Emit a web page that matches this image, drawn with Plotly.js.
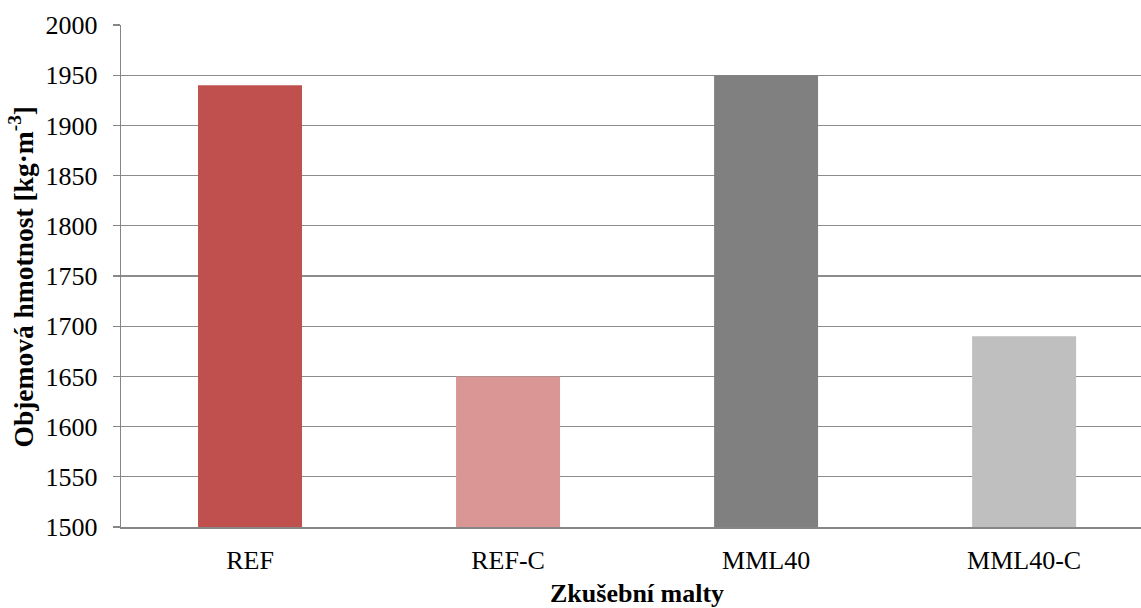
<!DOCTYPE html>
<html>
<head>
<meta charset="utf-8">
<script src="https://cdn.plot.ly/plotly-3.0.1.min.js"></script>
<style>html,body{margin:0;padding:0;background:#fff;}#chart{width:1141px;height:608px;}</style>
</head>
<body>
<div id="chart"></div>
<script>
const categories = ["REF", "REF-C", "MML40", "MML40-C"];
const values = [1940, 1650, 1950, 1690];
const barColors = ["#C0504D", "#D99694", "#808080", "#BFBFBF"];
const yTicks = [1500, 1550, 1600, 1650, 1700, 1750, 1800, 1850, 1900, 1950, 2000];
const xTitle = "Zkušební malty";
const yTitle = "Objemová hmotnost [kg·m<sup>-3</sup>]";

const font = "Liberation Serif, Times New Roman, serif";

const trace = {
  type: "bar",
  x: categories,
  y: values,
  marker: {color: barColors, line: {width: 0}},
  width: 0.403,
  hoverinfo: "x+y"
};

const layout = {
  width: 1141,
  height: 608,
  margin: {l: 121, r: 0, t: 25, b: 81},
  paper_bgcolor: "#fff",
  plot_bgcolor: "#fff",
  showlegend: false,
  font: {family: font, size: 26, color: "#000"},
  xaxis: {
    type: "category",
    range: [-0.5, 3.453],
    showgrid: false,
    showline: true,
    linecolor: "#868686",
    linewidth: 2,
    ticks: "",
    tickfont: {family: font, size: 26, color: "#000"},
    ticklabelstandoff: 9,
    zeroline: false,
    fixedrange: true
  },
  yaxis: {
    range: [1500, 2000],
    tickvals: yTicks,
    ticktext: yTicks.map(String),
    showgrid: true,
    gridcolor: "#8c8c8c",
    gridwidth: 1.3,
    showline: true,
    linecolor: "#868686",
    linewidth: 1.3,
    ticks: "outside",
    ticklen: 7,
    tickcolor: "#868686",
    tickwidth: 1.3,
    tickfont: {family: font, size: 26, color: "#000"},
    ticklabelstandoff: 10,
    zeroline: false,
    fixedrange: true
  },
  annotations: [
    {
      text: "<b>" + xTitle + "</b>",
      xref: "paper", yref: "paper",
      x: 0.506, y: 0, yshift: -66,
      xanchor: "center", yanchor: "middle",
      showarrow: false,
      font: {family: font, size: 26, color: "#000"}
    },
    {
      text: "<b>" + yTitle + "</b>",
      xref: "paper", yref: "paper",
      x: 0, xshift: -99, y: 0.497,
      xanchor: "center", yanchor: "middle",
      textangle: -90,
      showarrow: false,
      font: {family: font, size: 27.5, color: "#000"}
    }
  ]
};

Plotly.newPlot("chart", [trace], layout, {displayModeBar: false, staticPlot: true});
</script>
</body>
</html>
